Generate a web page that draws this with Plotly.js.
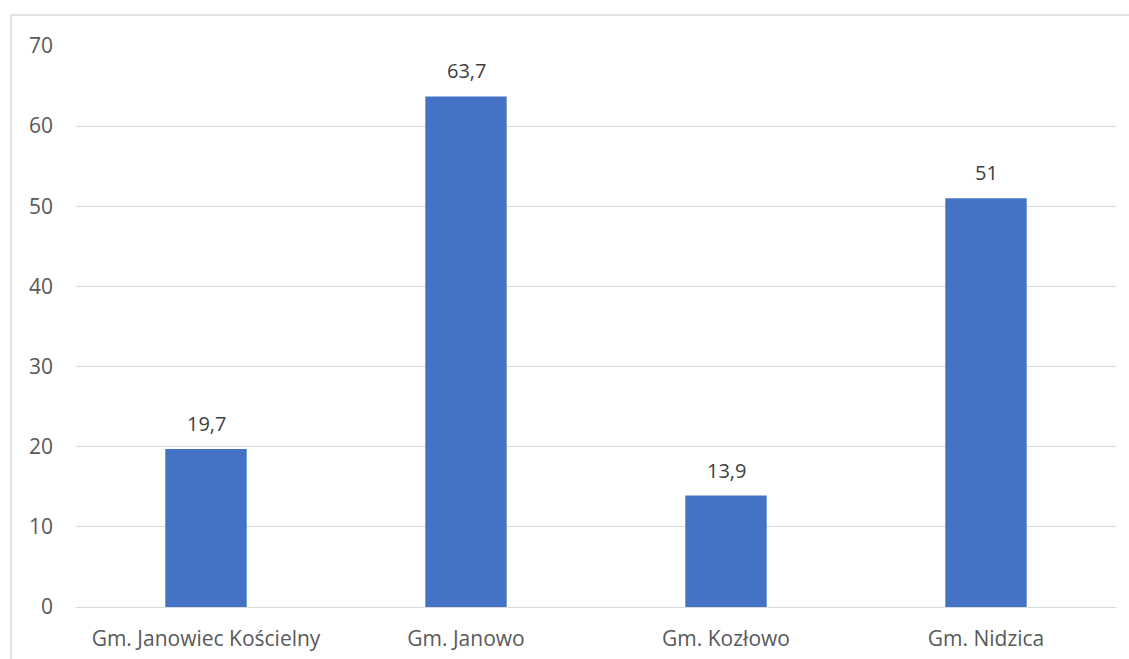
<!DOCTYPE html>
<html>
<head>
<meta charset="utf-8">
<script src="https://cdn.plot.ly/plotly-3.0.1.min.js"></script>
<style>
html,body{margin:0;padding:0;background:#fff;}
#chart{width:1129px;height:659px;}
</style>
</head>
<body>
<div id="chart"></div>
<script>
const categories = ["Gm. Janowiec Kościelny", "Gm. Janowo", "Gm. Kozłowo", "Gm. Nidzica"];
const values = [19.7, 63.7, 13.9, 51];
const valueLabels = ["19,7", "63,7", "13,9", "51"];
const yTicks = [0, 10, 20, 30, 40, 50, 60, 70];

const trace = {
  type: "bar",
  x: categories,
  y: values,
  marker: {color: "#4472C4"},
  hoverinfo: "x+y"
};

const annotations = categories.map((c, i) => ({
  x: c, y: values[i], xref: "x", yref: "y",
  text: valueLabels[i], showarrow: false,
  yanchor: "bottom", yshift: 10,
  font: {family: "Open Sans, sans-serif", size: 20, color: "#404040"}
}));

const layout = {
  width: 1129, height: 659,
  margin: {l: 76, r: 13, t: 46, b: 52},
  paper_bgcolor: "#fff", plot_bgcolor: "#fff",
  bargap: 0.687,
  showlegend: false,
  font: {family: "Open Sans, sans-serif", size: 21, color: "#595959"},
  xaxis: {
    showgrid: false, showline: false, zeroline: false,
    ticks: "", ticklabelstandoff: 17,
    tickfont: {size: 21, color: "#595959"},
    automargin: false
  },
  yaxis: {
    range: [0, 70], tickvals: yTicks, ticktext: yTicks.map(String),
    showgrid: true, gridcolor: "#d9d9d9", gridwidth: 1,
    zeroline: true, zerolinecolor: "#d9d9d9", zerolinewidth: 1,
    showline: false, ticks: "", ticklabelstandoff: 22,
    tickfont: {size: 21, color: "#595959"}, automargin: false
  },
  annotations: annotations,
  shapes: [{
    type: "rect", xref: "paper", yref: "paper",
    x0: -65/1040, x1: 1.2, y0: -0.3, y1: 1 + 31/560.5,
    line: {color: "#d9d9d9", width: 1.5}, fillcolor: "rgba(0,0,0,0)",
    layer: "below"
  }]
};

Plotly.newPlot("chart", [trace], layout, {displayModeBar: false, staticPlot: true});
</script>
</body>
</html>
